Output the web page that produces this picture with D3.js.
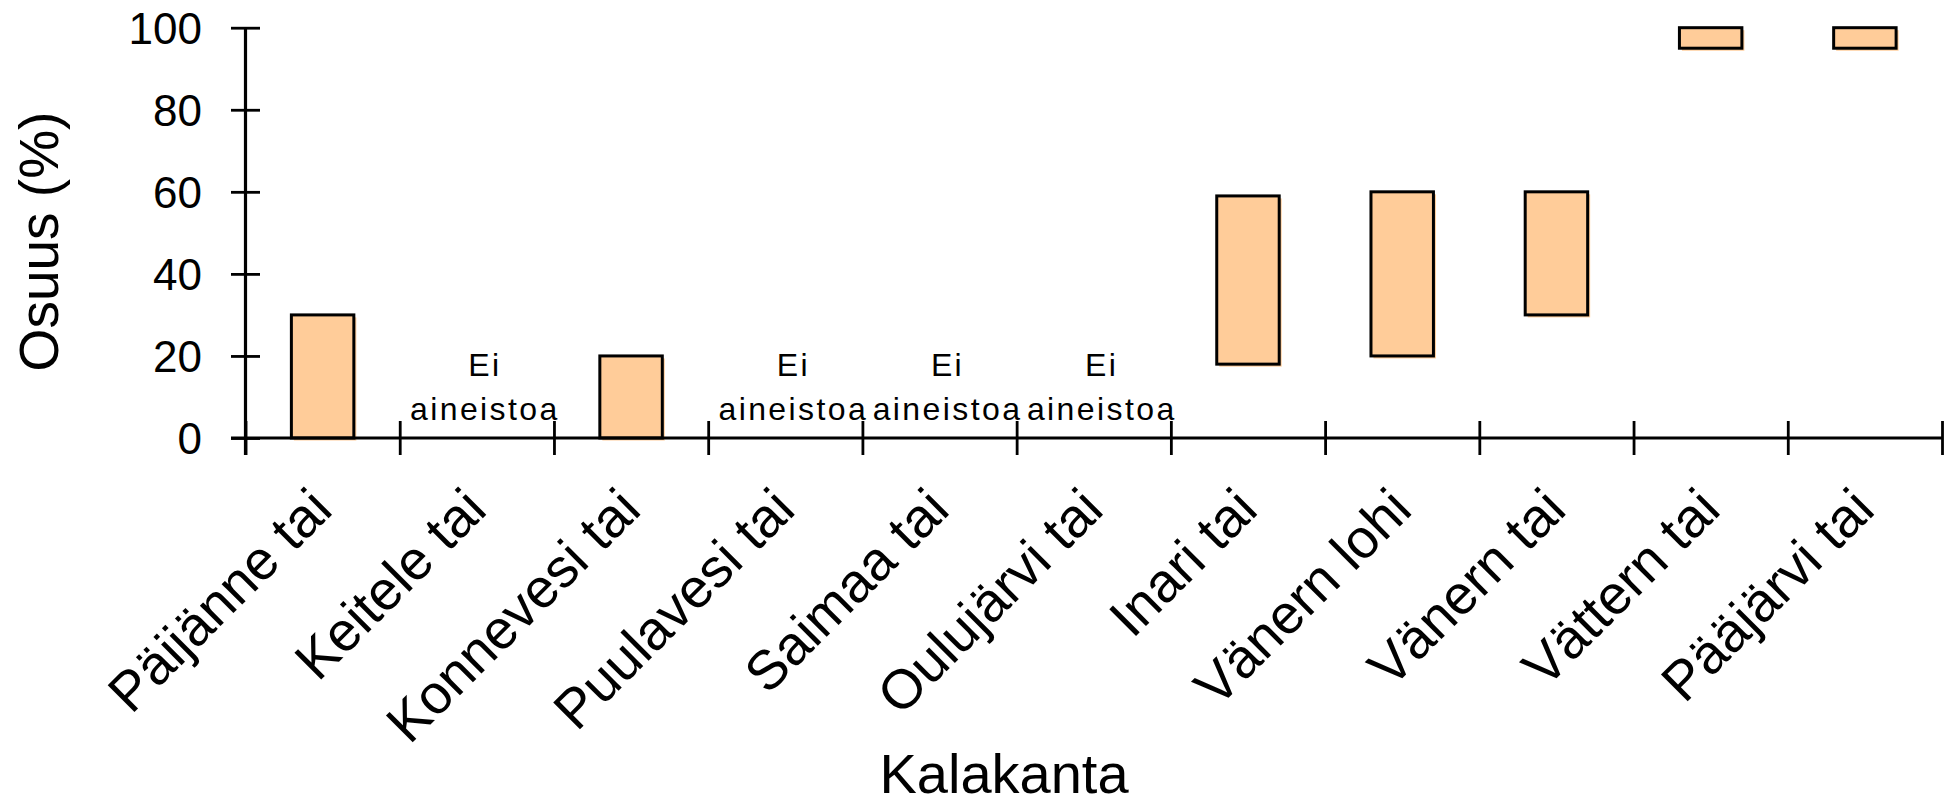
<!DOCTYPE html>
<html>
<head>
<meta charset="utf-8">
<script src="https://cdn.jsdelivr.net/npm/d3@7"></script>
<style>
  html, body { margin: 0; padding: 0; background: #fff; }
  svg { display: block; font-family: "Liberation Sans", Arial, Helvetica, sans-serif; }
</style>
</head>
<body>
<svg id="chart" width="1955" height="799"></svg>
<script>
// Fish stocks and the share range (%) for each; null = no data available
const categories = ["Päijänne tai", "Keitele tai", "Konnevesi tai", "Puulavesi tai", "Saimaa tai",
  "Oulujärvi tai", "Inari tai", "Vänern lohi", "Vänern tai", "Vättern tai", "Pääjärvi tai"];
const lowValues  = [0, null, 0, null, null, null, 18, 20, 30, 95, 95];
const highValues = [30, null, 20, null, null, null, 59, 60, 60, 100, 100];
const yTicks = [0, 20, 40, 60, 80, 100];
const noDataText = ["Ei", "aineistoa"];
const yTitle = "Osuus (%)";
const xTitle = "Kalakanta";

const svg = d3.select("#chart");
const plotLeft = 245.5, plotRight = 1942, plotTop = 27.7, plotBottom = 438;

const x = d3.scaleBand().domain(categories).range([plotLeft, plotRight]).padding(0);
const xEdge = d3.scaleLinear().domain([0, categories.length]).range([plotLeft, plotRight]);
const y = d3.scaleLinear().domain([0, 100]).range([plotBottom, plotTop]);

const rows = categories.map((c, i) => ({ name: c, lo: lowValues[i], hi: highValues[i] }));
const barW = x.bandwidth() * 0.405;

// Floating range bars: a soft offset shadow, then the outlined bar
const bars = svg.append("g").selectAll("g")
  .data(rows.filter(d => d.lo !== null))
  .join("g");
bars.append("rect")
  .attr("x", d => x(d.name) + (x.bandwidth() - barW) / 2 + 2.5)
  .attr("y", d => y(d.hi) + 2.5)
  .attr("width", barW)
  .attr("height", d => y(d.lo) - y(d.hi))
  .attr("fill", "#FFCC99");
bars.append("rect")
  .attr("x", d => x(d.name) + (x.bandwidth() - barW) / 2)
  .attr("y", d => y(d.hi))
  .attr("width", barW)
  .attr("height", d => y(d.lo) - y(d.hi))
  .attr("fill", "#FFCC99")
  .attr("stroke", "#000")
  .attr("stroke-width", 3);

// "No data" notes
const noteX = d => x(d.name) + x.bandwidth() / 2 + 8;
const notes = svg.append("g").selectAll("text")
  .data(rows.filter(d => d.lo === null))
  .join("text")
  .attr("text-anchor", "middle")
  .attr("font-size", 32)
  .attr("letter-spacing", "2.4px")
  .attr("fill", "#000");
notes.append("tspan").attr("x", noteX).attr("y", 376).text(noDataText[0]);
notes.append("tspan").attr("x", noteX).attr("y", 420).text(noDataText[1]);

// Y axis with crossing ticks
const yAxis = svg.append("g")
  .attr("transform", `translate(${plotLeft},0)`)
  .call(d3.axisLeft(y).tickValues(yTicks).tickSizeOuter(0).tickPadding(0));
yAxis.select(".domain").remove();
yAxis.selectAll(".tick line").attr("x1", -14.5).attr("x2", 14.5).attr("stroke", "#000").attr("stroke-width", 2.8);
yAxis.selectAll(".tick text")
  .attr("x", -43.5).attr("dy", "0.35em")
  .attr("font-size", 44).attr("fill", "#000")
  .attr("font-family", "Liberation Sans, Arial, sans-serif");

// X axis with crossing ticks at category boundaries
const xAxis = svg.append("g")
  .attr("transform", `translate(0,${plotBottom})`)
  .call(d3.axisBottom(xEdge).tickValues(d3.range(categories.length + 1)).tickFormat("").tickSizeOuter(0));
xAxis.select(".domain").remove();
xAxis.selectAll(".tick line").attr("y1", -17).attr("y2", 17).attr("stroke", "#000").attr("stroke-width", 2.8);

// Axis lines
svg.append("line")
  .attr("x1", plotLeft).attr("x2", plotLeft)
  .attr("y1", y(100)).attr("y2", y(0) + 17)
  .attr("stroke", "#000").attr("stroke-width", 3.2);
svg.append("line")
  .attr("x1", plotLeft - 14.5).attr("x2", plotRight)
  .attr("y1", y(0)).attr("y2", y(0))
  .attr("stroke", "#000").attr("stroke-width", 3.2);

// Category labels, rotated
svg.append("g").selectAll("text")
  .data(categories)
  .join("text")
  .attr("transform", d => `translate(${x(d) + x.bandwidth() / 2 + 12},512) rotate(-45)`)
  .attr("text-anchor", "end")
  .attr("font-size", 55)
  .attr("fill", "#000")
  .text(d => d);

// Axis titles
svg.append("text")
  .attr("transform", "translate(58,241.5) rotate(-90)")
  .attr("text-anchor", "middle")
  .attr("font-size", 55)
  .attr("fill", "#000")
  .text(yTitle);
svg.append("text")
  .attr("x", 1004).attr("y", 793)
  .attr("text-anchor", "middle")
  .attr("font-size", 56)
  .attr("fill", "#000")
  .text(xTitle);
</script>
</body>
</html>
